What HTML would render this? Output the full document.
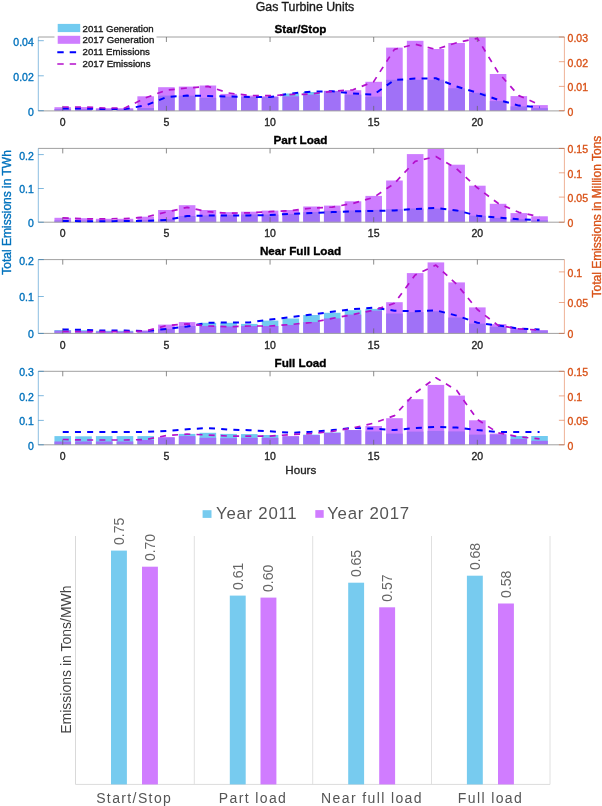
<!DOCTYPE html>
<html><head><meta charset="utf-8"><style>
html,body{margin:0;padding:0;background:#fff;}
body{width:602px;height:806px;overflow:hidden;}
svg{display:block;font-family:"Liberation Sans", sans-serif;will-change:transform;}
text{stroke-width:0.35px;}
</style></head><body>
<svg width="602" height="806" viewBox="0 0 602 806">
<text x="305" y="10.7" font-size="12.3" text-anchor="middle" fill="#1a1a1a" stroke="#1a1a1a">Gas Turbine Units</text>
<rect x="54.45" y="107.20" width="16.60" height="3.70" fill="#ce7dff"/>
<rect x="54.45" y="109.00" width="16.60" height="1.90" fill="#a071f7"/>
<rect x="75.18" y="107.10" width="16.60" height="3.80" fill="#ce7dff"/>
<rect x="75.18" y="109.00" width="16.60" height="1.90" fill="#a071f7"/>
<rect x="95.91" y="108.20" width="16.60" height="2.70" fill="#ce7dff"/>
<rect x="95.91" y="109.30" width="16.60" height="1.60" fill="#a071f7"/>
<rect x="116.64" y="108.20" width="16.60" height="2.70" fill="#ce7dff"/>
<rect x="116.64" y="109.30" width="16.60" height="1.60" fill="#a071f7"/>
<rect x="137.37" y="96.30" width="16.60" height="14.60" fill="#ce7dff"/>
<rect x="137.37" y="108.00" width="16.60" height="2.90" fill="#a071f7"/>
<rect x="158.10" y="87.20" width="16.60" height="23.70" fill="#ce7dff"/>
<rect x="158.10" y="95.60" width="16.60" height="15.30" fill="#a071f7"/>
<rect x="178.83" y="86.60" width="16.60" height="24.30" fill="#ce7dff"/>
<rect x="178.83" y="95.60" width="16.60" height="15.30" fill="#a071f7"/>
<rect x="199.56" y="85.50" width="16.60" height="25.40" fill="#ce7dff"/>
<rect x="199.56" y="97.80" width="16.60" height="13.10" fill="#a071f7"/>
<rect x="220.29" y="93.90" width="16.60" height="17.00" fill="#ce7dff"/>
<rect x="220.29" y="96.70" width="16.60" height="14.20" fill="#a071f7"/>
<rect x="241.02" y="95.60" width="16.60" height="15.30" fill="#ce7dff"/>
<rect x="241.02" y="97.00" width="16.60" height="13.90" fill="#a071f7"/>
<rect x="261.75" y="96.30" width="16.60" height="14.60" fill="#ce7dff"/>
<rect x="261.75" y="97.10" width="16.60" height="13.80" fill="#a071f7"/>
<rect x="282.48" y="93.50" width="16.60" height="17.40" fill="#72cbf0"/>
<rect x="282.48" y="96.30" width="16.60" height="14.60" fill="#a071f7"/>
<rect x="303.21" y="92.00" width="16.60" height="18.90" fill="#72cbf0"/>
<rect x="303.21" y="94.60" width="16.60" height="16.30" fill="#a071f7"/>
<rect x="323.94" y="90.90" width="16.60" height="20.00" fill="#ce7dff"/>
<rect x="323.94" y="90.90" width="16.60" height="20.00" fill="#a071f7"/>
<rect x="344.67" y="90.20" width="16.60" height="20.70" fill="#ce7dff"/>
<rect x="344.67" y="94.60" width="16.60" height="16.30" fill="#a071f7"/>
<rect x="365.40" y="81.80" width="16.60" height="29.10" fill="#ce7dff"/>
<rect x="365.40" y="96.60" width="16.60" height="14.30" fill="#a071f7"/>
<rect x="386.13" y="47.60" width="16.60" height="63.30" fill="#ce7dff"/>
<rect x="386.13" y="79.80" width="16.60" height="31.10" fill="#a071f7"/>
<rect x="406.86" y="40.80" width="16.60" height="70.10" fill="#ce7dff"/>
<rect x="406.86" y="79.80" width="16.60" height="31.10" fill="#a071f7"/>
<rect x="427.59" y="49.00" width="16.60" height="61.90" fill="#ce7dff"/>
<rect x="427.59" y="79.80" width="16.60" height="31.10" fill="#a071f7"/>
<rect x="448.32" y="43.00" width="16.60" height="67.90" fill="#ce7dff"/>
<rect x="448.32" y="88.30" width="16.60" height="22.60" fill="#a071f7"/>
<rect x="469.05" y="37.00" width="16.60" height="73.90" fill="#ce7dff"/>
<rect x="469.05" y="92.80" width="16.60" height="18.10" fill="#a071f7"/>
<rect x="489.78" y="74.00" width="16.60" height="36.90" fill="#ce7dff"/>
<rect x="489.78" y="101.10" width="16.60" height="9.80" fill="#a071f7"/>
<rect x="510.51" y="96.10" width="16.60" height="14.80" fill="#ce7dff"/>
<rect x="510.51" y="106.40" width="16.60" height="4.50" fill="#a071f7"/>
<rect x="531.24" y="105.10" width="16.60" height="5.80" fill="#ce7dff"/>
<rect x="531.24" y="108.10" width="16.60" height="2.80" fill="#a071f7"/>
<line x1="38.3" y1="37.00" x2="564.4" y2="37.00" stroke="#a0a0a0" stroke-width="1"/>
<line x1="38.3" y1="110.90" x2="564.4" y2="110.90" stroke="#a0a0a0" stroke-width="1"/>
<line x1="62.75" y1="37.00" x2="62.75" y2="42.00" stroke="#666" stroke-width="0.75"/>
<line x1="62.75" y1="110.90" x2="62.75" y2="105.90" stroke="#666" stroke-width="0.75"/>
<text x="62.75" y="126.10" font-size="10.5" text-anchor="middle" fill="#262626" stroke="#262626">0</text>
<line x1="166.40" y1="37.00" x2="166.40" y2="42.00" stroke="#666" stroke-width="0.75"/>
<line x1="166.40" y1="110.90" x2="166.40" y2="105.90" stroke="#666" stroke-width="0.75"/>
<text x="166.40" y="126.10" font-size="10.5" text-anchor="middle" fill="#262626" stroke="#262626">5</text>
<line x1="270.05" y1="37.00" x2="270.05" y2="42.00" stroke="#666" stroke-width="0.75"/>
<line x1="270.05" y1="110.90" x2="270.05" y2="105.90" stroke="#666" stroke-width="0.75"/>
<text x="270.05" y="126.10" font-size="10.5" text-anchor="middle" fill="#262626" stroke="#262626">10</text>
<line x1="373.70" y1="37.00" x2="373.70" y2="42.00" stroke="#666" stroke-width="0.75"/>
<line x1="373.70" y1="110.90" x2="373.70" y2="105.90" stroke="#666" stroke-width="0.75"/>
<text x="373.70" y="126.10" font-size="10.5" text-anchor="middle" fill="#262626" stroke="#262626">15</text>
<line x1="477.35" y1="37.00" x2="477.35" y2="42.00" stroke="#666" stroke-width="0.75"/>
<line x1="477.35" y1="110.90" x2="477.35" y2="105.90" stroke="#666" stroke-width="0.75"/>
<text x="477.35" y="126.10" font-size="10.5" text-anchor="middle" fill="#262626" stroke="#262626">20</text>
<line x1="38.3" y1="37.00" x2="38.3" y2="110.90" stroke="#0072bd" stroke-width="1" stroke-opacity="0.45"/>
<line x1="38.3" y1="110.70" x2="43.8" y2="110.70" stroke="#0072bd" stroke-width="1" stroke-opacity="0.5"/>
<text x="33.8" y="115.60" font-size="10.5" text-anchor="end" fill="#0072bd" stroke="#0072bd">0</text>
<line x1="38.3" y1="75.80" x2="43.8" y2="75.80" stroke="#0072bd" stroke-width="1" stroke-opacity="0.5"/>
<text x="33.8" y="80.70" font-size="10.5" text-anchor="end" fill="#0072bd" stroke="#0072bd">0.02</text>
<line x1="38.3" y1="40.70" x2="43.8" y2="40.70" stroke="#0072bd" stroke-width="1" stroke-opacity="0.5"/>
<text x="33.8" y="45.60" font-size="10.5" text-anchor="end" fill="#0072bd" stroke="#0072bd">0.04</text>
<line x1="564.4" y1="37.00" x2="564.4" y2="110.90" stroke="#d95319" stroke-width="1" stroke-opacity="0.45"/>
<line x1="558.9" y1="110.70" x2="564.4" y2="110.70" stroke="#d95319" stroke-width="1" stroke-opacity="0.5"/>
<text x="567.6" y="115.60" font-size="10.5" fill="#d95319" stroke="#d95319">0</text>
<line x1="558.9" y1="86.40" x2="564.4" y2="86.40" stroke="#d95319" stroke-width="1" stroke-opacity="0.5"/>
<text x="567.6" y="91.30" font-size="10.5" fill="#d95319" stroke="#d95319">0.01</text>
<line x1="558.9" y1="61.70" x2="564.4" y2="61.70" stroke="#d95319" stroke-width="1" stroke-opacity="0.5"/>
<text x="567.6" y="66.60" font-size="10.5" fill="#d95319" stroke="#d95319">0.02</text>
<line x1="558.9" y1="37.00" x2="564.4" y2="37.00" stroke="#d95319" stroke-width="1" stroke-opacity="0.5"/>
<text x="567.6" y="41.90" font-size="10.5" fill="#d95319" stroke="#d95319">0.03</text>
<path d="M62.75,108.60 L83.48,108.60 L104.21,109.00 L124.94,109.00 L145.67,105.40 L166.40,97.10 L187.13,95.60 L207.86,96.00 L228.59,96.50 L249.32,97.00 L270.05,97.10 L290.78,93.50 L311.51,91.70 L332.24,91.30 L352.97,93.50 L373.70,94.60 L394.43,80.00 L415.16,78.60 L435.89,78.30 L456.62,86.50 L477.35,92.80 L498.08,99.80 L518.81,105.60 L539.54,107.20" fill="none" stroke="#0000ff" stroke-width="2" stroke-dasharray="6 6.2" stroke-linejoin="round"/>
<path d="M62.75,107.00 L83.48,107.00 L104.21,108.00 L124.94,108.00 L145.67,97.80 L166.40,90.20 L187.13,88.00 L207.86,86.40 L228.59,93.00 L249.32,95.50 L270.05,95.60 L290.78,94.60 L311.51,94.00 L332.24,91.30 L352.97,89.80 L373.70,81.60 L394.43,49.40 L415.16,44.20 L435.89,49.40 L456.62,42.70 L477.35,38.30 L498.08,72.40 L518.81,95.60 L539.54,104.80" fill="none" stroke="#b40fcc" stroke-width="1.7" stroke-dasharray="6 6.2" stroke-linejoin="round"/>
<text x="300.5" y="33.20" font-size="11.7" font-weight="bold" text-anchor="middle" fill="#000" stroke="#000">Star/Stop</text>
<rect x="54.45" y="217.80" width="16.60" height="4.40" fill="#ce7dff"/>
<rect x="54.45" y="220.40" width="16.60" height="1.80" fill="#a071f7"/>
<rect x="75.18" y="218.20" width="16.60" height="4.00" fill="#ce7dff"/>
<rect x="75.18" y="220.60" width="16.60" height="1.60" fill="#a071f7"/>
<rect x="95.91" y="218.80" width="16.60" height="3.40" fill="#ce7dff"/>
<rect x="95.91" y="220.60" width="16.60" height="1.60" fill="#a071f7"/>
<rect x="116.64" y="218.80" width="16.60" height="3.40" fill="#ce7dff"/>
<rect x="116.64" y="220.60" width="16.60" height="1.60" fill="#a071f7"/>
<rect x="137.37" y="216.70" width="16.60" height="5.50" fill="#ce7dff"/>
<rect x="137.37" y="220.30" width="16.60" height="1.90" fill="#a071f7"/>
<rect x="158.10" y="210.00" width="16.60" height="12.20" fill="#ce7dff"/>
<rect x="158.10" y="219.30" width="16.60" height="2.90" fill="#a071f7"/>
<rect x="178.83" y="205.20" width="16.60" height="17.00" fill="#ce7dff"/>
<rect x="178.83" y="216.00" width="16.60" height="6.20" fill="#a071f7"/>
<rect x="199.56" y="210.00" width="16.60" height="12.20" fill="#ce7dff"/>
<rect x="199.56" y="215.40" width="16.60" height="6.80" fill="#a071f7"/>
<rect x="220.29" y="212.10" width="16.60" height="10.10" fill="#ce7dff"/>
<rect x="220.29" y="215.00" width="16.60" height="7.20" fill="#a071f7"/>
<rect x="241.02" y="211.70" width="16.60" height="10.50" fill="#ce7dff"/>
<rect x="241.02" y="214.50" width="16.60" height="7.70" fill="#a071f7"/>
<rect x="261.75" y="210.60" width="16.60" height="11.60" fill="#ce7dff"/>
<rect x="261.75" y="214.50" width="16.60" height="7.70" fill="#a071f7"/>
<rect x="282.48" y="210.00" width="16.60" height="12.20" fill="#ce7dff"/>
<rect x="282.48" y="213.90" width="16.60" height="8.30" fill="#a071f7"/>
<rect x="303.21" y="206.50" width="16.60" height="15.70" fill="#ce7dff"/>
<rect x="303.21" y="212.10" width="16.60" height="10.10" fill="#a071f7"/>
<rect x="323.94" y="205.60" width="16.60" height="16.60" fill="#ce7dff"/>
<rect x="323.94" y="210.80" width="16.60" height="11.40" fill="#a071f7"/>
<rect x="344.67" y="201.30" width="16.60" height="20.90" fill="#ce7dff"/>
<rect x="344.67" y="210.40" width="16.60" height="11.80" fill="#a071f7"/>
<rect x="365.40" y="195.90" width="16.60" height="26.30" fill="#ce7dff"/>
<rect x="365.40" y="209.90" width="16.60" height="12.30" fill="#a071f7"/>
<rect x="386.13" y="180.50" width="16.60" height="41.70" fill="#ce7dff"/>
<rect x="386.13" y="209.30" width="16.60" height="12.90" fill="#a071f7"/>
<rect x="406.86" y="154.10" width="16.60" height="68.10" fill="#ce7dff"/>
<rect x="406.86" y="208.50" width="16.60" height="13.70" fill="#a071f7"/>
<rect x="427.59" y="148.40" width="16.60" height="73.80" fill="#ce7dff"/>
<rect x="427.59" y="208.60" width="16.60" height="13.60" fill="#a071f7"/>
<rect x="448.32" y="164.70" width="16.60" height="57.50" fill="#ce7dff"/>
<rect x="448.32" y="210.40" width="16.60" height="11.80" fill="#a071f7"/>
<rect x="469.05" y="185.70" width="16.60" height="36.50" fill="#ce7dff"/>
<rect x="469.05" y="215.70" width="16.60" height="6.50" fill="#a071f7"/>
<rect x="489.78" y="203.80" width="16.60" height="18.40" fill="#ce7dff"/>
<rect x="489.78" y="217.90" width="16.60" height="4.30" fill="#a071f7"/>
<rect x="510.51" y="213.10" width="16.60" height="9.10" fill="#ce7dff"/>
<rect x="510.51" y="219.20" width="16.60" height="3.00" fill="#a071f7"/>
<rect x="531.24" y="216.30" width="16.60" height="5.90" fill="#ce7dff"/>
<rect x="531.24" y="220.30" width="16.60" height="1.90" fill="#a071f7"/>
<line x1="38.3" y1="148.40" x2="564.4" y2="148.40" stroke="#a0a0a0" stroke-width="1"/>
<line x1="38.3" y1="222.20" x2="564.4" y2="222.20" stroke="#a0a0a0" stroke-width="1"/>
<line x1="62.75" y1="148.40" x2="62.75" y2="153.40" stroke="#666" stroke-width="0.75"/>
<line x1="62.75" y1="222.20" x2="62.75" y2="217.20" stroke="#666" stroke-width="0.75"/>
<text x="62.75" y="237.40" font-size="10.5" text-anchor="middle" fill="#262626" stroke="#262626">0</text>
<line x1="166.40" y1="148.40" x2="166.40" y2="153.40" stroke="#666" stroke-width="0.75"/>
<line x1="166.40" y1="222.20" x2="166.40" y2="217.20" stroke="#666" stroke-width="0.75"/>
<text x="166.40" y="237.40" font-size="10.5" text-anchor="middle" fill="#262626" stroke="#262626">5</text>
<line x1="270.05" y1="148.40" x2="270.05" y2="153.40" stroke="#666" stroke-width="0.75"/>
<line x1="270.05" y1="222.20" x2="270.05" y2="217.20" stroke="#666" stroke-width="0.75"/>
<text x="270.05" y="237.40" font-size="10.5" text-anchor="middle" fill="#262626" stroke="#262626">10</text>
<line x1="373.70" y1="148.40" x2="373.70" y2="153.40" stroke="#666" stroke-width="0.75"/>
<line x1="373.70" y1="222.20" x2="373.70" y2="217.20" stroke="#666" stroke-width="0.75"/>
<text x="373.70" y="237.40" font-size="10.5" text-anchor="middle" fill="#262626" stroke="#262626">15</text>
<line x1="477.35" y1="148.40" x2="477.35" y2="153.40" stroke="#666" stroke-width="0.75"/>
<line x1="477.35" y1="222.20" x2="477.35" y2="217.20" stroke="#666" stroke-width="0.75"/>
<text x="477.35" y="237.40" font-size="10.5" text-anchor="middle" fill="#262626" stroke="#262626">20</text>
<line x1="38.3" y1="148.40" x2="38.3" y2="222.20" stroke="#0072bd" stroke-width="1" stroke-opacity="0.45"/>
<line x1="38.3" y1="222.20" x2="43.8" y2="222.20" stroke="#0072bd" stroke-width="1" stroke-opacity="0.5"/>
<text x="33.8" y="227.10" font-size="10.5" text-anchor="end" fill="#0072bd" stroke="#0072bd">0</text>
<line x1="38.3" y1="188.50" x2="43.8" y2="188.50" stroke="#0072bd" stroke-width="1" stroke-opacity="0.5"/>
<text x="33.8" y="193.40" font-size="10.5" text-anchor="end" fill="#0072bd" stroke="#0072bd">0.1</text>
<line x1="38.3" y1="154.60" x2="43.8" y2="154.60" stroke="#0072bd" stroke-width="1" stroke-opacity="0.5"/>
<text x="33.8" y="159.50" font-size="10.5" text-anchor="end" fill="#0072bd" stroke="#0072bd">0.2</text>
<line x1="564.4" y1="148.40" x2="564.4" y2="222.20" stroke="#d95319" stroke-width="1" stroke-opacity="0.45"/>
<line x1="558.9" y1="222.20" x2="564.4" y2="222.20" stroke="#d95319" stroke-width="1" stroke-opacity="0.5"/>
<text x="567.6" y="227.10" font-size="10.5" fill="#d95319" stroke="#d95319">0</text>
<line x1="558.9" y1="197.10" x2="564.4" y2="197.10" stroke="#d95319" stroke-width="1" stroke-opacity="0.5"/>
<text x="567.6" y="202.00" font-size="10.5" fill="#d95319" stroke="#d95319">0.05</text>
<line x1="558.9" y1="172.80" x2="564.4" y2="172.80" stroke="#d95319" stroke-width="1" stroke-opacity="0.5"/>
<text x="567.6" y="177.70" font-size="10.5" fill="#d95319" stroke="#d95319">0.1</text>
<line x1="558.9" y1="148.40" x2="564.4" y2="148.40" stroke="#d95319" stroke-width="1" stroke-opacity="0.5"/>
<text x="567.6" y="153.30" font-size="10.5" fill="#d95319" stroke="#d95319">0.15</text>
<path d="M62.75,221.00 L83.48,221.20 L104.21,221.20 L124.94,221.00 L145.67,220.80 L166.40,219.90 L187.13,216.00 L207.86,215.60 L228.59,215.40 L249.32,215.40 L270.05,215.00 L290.78,213.90 L311.51,213.00 L332.24,212.10 L352.97,211.40 L373.70,211.00 L394.43,210.40 L415.16,209.00 L435.89,208.00 L456.62,210.40 L477.35,215.70 L498.08,217.60 L518.81,219.20 L539.54,220.30" fill="none" stroke="#0000ff" stroke-width="2" stroke-dasharray="6 6.2" stroke-linejoin="round"/>
<path d="M62.75,217.80 L83.48,218.80 L104.21,218.80 L124.94,218.60 L145.67,217.10 L166.40,212.10 L187.13,207.40 L207.86,211.70 L228.59,213.20 L249.32,212.80 L270.05,211.70 L290.78,210.60 L311.51,208.20 L332.24,207.10 L352.97,203.40 L373.70,197.40 L394.43,183.40 L415.16,161.30 L435.89,156.50 L456.62,168.70 L477.35,187.80 L498.08,203.30 L518.81,212.30 L539.54,216.60" fill="none" stroke="#b40fcc" stroke-width="1.7" stroke-dasharray="6 6.2" stroke-linejoin="round"/>
<text x="300.5" y="144.10" font-size="11.7" font-weight="bold" text-anchor="middle" fill="#000" stroke="#000">Part Load</text>
<rect x="54.45" y="330.00" width="16.60" height="3.40" fill="#72cbf0"/>
<rect x="54.45" y="330.60" width="16.60" height="2.80" fill="#a071f7"/>
<rect x="75.18" y="330.20" width="16.60" height="3.20" fill="#72cbf0"/>
<rect x="75.18" y="331.00" width="16.60" height="2.40" fill="#a071f7"/>
<rect x="95.91" y="330.80" width="16.60" height="2.60" fill="#72cbf0"/>
<rect x="95.91" y="331.50" width="16.60" height="1.90" fill="#a071f7"/>
<rect x="116.64" y="330.80" width="16.60" height="2.60" fill="#72cbf0"/>
<rect x="116.64" y="331.50" width="16.60" height="1.90" fill="#a071f7"/>
<rect x="137.37" y="330.60" width="16.60" height="2.80" fill="#ce7dff"/>
<rect x="137.37" y="330.80" width="16.60" height="2.60" fill="#a071f7"/>
<rect x="158.10" y="324.60" width="16.60" height="8.80" fill="#ce7dff"/>
<rect x="158.10" y="328.90" width="16.60" height="4.50" fill="#a071f7"/>
<rect x="178.83" y="322.10" width="16.60" height="11.30" fill="#ce7dff"/>
<rect x="178.83" y="326.00" width="16.60" height="7.40" fill="#a071f7"/>
<rect x="199.56" y="322.80" width="16.60" height="10.60" fill="#72cbf0"/>
<rect x="199.56" y="326.00" width="16.60" height="7.40" fill="#a071f7"/>
<rect x="220.29" y="322.80" width="16.60" height="10.60" fill="#72cbf0"/>
<rect x="220.29" y="326.50" width="16.60" height="6.90" fill="#a071f7"/>
<rect x="241.02" y="323.90" width="16.60" height="9.50" fill="#72cbf0"/>
<rect x="241.02" y="326.00" width="16.60" height="7.40" fill="#a071f7"/>
<rect x="261.75" y="320.60" width="16.60" height="12.80" fill="#72cbf0"/>
<rect x="261.75" y="326.00" width="16.60" height="7.40" fill="#a071f7"/>
<rect x="282.48" y="318.50" width="16.60" height="14.90" fill="#72cbf0"/>
<rect x="282.48" y="325.00" width="16.60" height="8.40" fill="#a071f7"/>
<rect x="303.21" y="315.00" width="16.60" height="18.40" fill="#72cbf0"/>
<rect x="303.21" y="322.10" width="16.60" height="11.30" fill="#a071f7"/>
<rect x="323.94" y="312.80" width="16.60" height="20.60" fill="#72cbf0"/>
<rect x="323.94" y="318.40" width="16.60" height="15.00" fill="#a071f7"/>
<rect x="344.67" y="310.20" width="16.60" height="23.20" fill="#72cbf0"/>
<rect x="344.67" y="314.60" width="16.60" height="18.80" fill="#a071f7"/>
<rect x="365.40" y="308.90" width="16.60" height="24.50" fill="#72cbf0"/>
<rect x="365.40" y="310.60" width="16.60" height="22.80" fill="#a071f7"/>
<rect x="386.13" y="302.20" width="16.60" height="31.20" fill="#ce7dff"/>
<rect x="386.13" y="313.50" width="16.60" height="19.90" fill="#a071f7"/>
<rect x="406.86" y="273.10" width="16.60" height="60.30" fill="#ce7dff"/>
<rect x="406.86" y="312.10" width="16.60" height="21.30" fill="#a071f7"/>
<rect x="427.59" y="262.40" width="16.60" height="71.00" fill="#ce7dff"/>
<rect x="427.59" y="311.30" width="16.60" height="22.10" fill="#a071f7"/>
<rect x="448.32" y="282.40" width="16.60" height="51.00" fill="#ce7dff"/>
<rect x="448.32" y="317.50" width="16.60" height="15.90" fill="#a071f7"/>
<rect x="469.05" y="307.40" width="16.60" height="26.00" fill="#ce7dff"/>
<rect x="469.05" y="323.60" width="16.60" height="9.80" fill="#a071f7"/>
<rect x="489.78" y="324.10" width="16.60" height="9.30" fill="#ce7dff"/>
<rect x="489.78" y="326.80" width="16.60" height="6.60" fill="#a071f7"/>
<rect x="510.51" y="328.10" width="16.60" height="5.30" fill="#ce7dff"/>
<rect x="510.51" y="329.40" width="16.60" height="4.00" fill="#a071f7"/>
<rect x="531.24" y="330.20" width="16.60" height="3.20" fill="#ce7dff"/>
<rect x="531.24" y="330.50" width="16.60" height="2.90" fill="#a071f7"/>
<line x1="38.3" y1="259.60" x2="564.4" y2="259.60" stroke="#a0a0a0" stroke-width="1"/>
<line x1="38.3" y1="333.40" x2="564.4" y2="333.40" stroke="#a0a0a0" stroke-width="1"/>
<line x1="62.75" y1="259.60" x2="62.75" y2="264.60" stroke="#666" stroke-width="0.75"/>
<line x1="62.75" y1="333.40" x2="62.75" y2="328.40" stroke="#666" stroke-width="0.75"/>
<text x="62.75" y="348.60" font-size="10.5" text-anchor="middle" fill="#262626" stroke="#262626">0</text>
<line x1="166.40" y1="259.60" x2="166.40" y2="264.60" stroke="#666" stroke-width="0.75"/>
<line x1="166.40" y1="333.40" x2="166.40" y2="328.40" stroke="#666" stroke-width="0.75"/>
<text x="166.40" y="348.60" font-size="10.5" text-anchor="middle" fill="#262626" stroke="#262626">5</text>
<line x1="270.05" y1="259.60" x2="270.05" y2="264.60" stroke="#666" stroke-width="0.75"/>
<line x1="270.05" y1="333.40" x2="270.05" y2="328.40" stroke="#666" stroke-width="0.75"/>
<text x="270.05" y="348.60" font-size="10.5" text-anchor="middle" fill="#262626" stroke="#262626">10</text>
<line x1="373.70" y1="259.60" x2="373.70" y2="264.60" stroke="#666" stroke-width="0.75"/>
<line x1="373.70" y1="333.40" x2="373.70" y2="328.40" stroke="#666" stroke-width="0.75"/>
<text x="373.70" y="348.60" font-size="10.5" text-anchor="middle" fill="#262626" stroke="#262626">15</text>
<line x1="477.35" y1="259.60" x2="477.35" y2="264.60" stroke="#666" stroke-width="0.75"/>
<line x1="477.35" y1="333.40" x2="477.35" y2="328.40" stroke="#666" stroke-width="0.75"/>
<text x="477.35" y="348.60" font-size="10.5" text-anchor="middle" fill="#262626" stroke="#262626">20</text>
<line x1="38.3" y1="259.60" x2="38.3" y2="333.40" stroke="#0072bd" stroke-width="1" stroke-opacity="0.45"/>
<line x1="38.3" y1="333.40" x2="43.8" y2="333.40" stroke="#0072bd" stroke-width="1" stroke-opacity="0.5"/>
<text x="33.8" y="338.30" font-size="10.5" text-anchor="end" fill="#0072bd" stroke="#0072bd">0</text>
<line x1="38.3" y1="296.50" x2="43.8" y2="296.50" stroke="#0072bd" stroke-width="1" stroke-opacity="0.5"/>
<text x="33.8" y="301.40" font-size="10.5" text-anchor="end" fill="#0072bd" stroke="#0072bd">0.1</text>
<line x1="38.3" y1="259.60" x2="43.8" y2="259.60" stroke="#0072bd" stroke-width="1" stroke-opacity="0.5"/>
<text x="33.8" y="264.50" font-size="10.5" text-anchor="end" fill="#0072bd" stroke="#0072bd">0.2</text>
<line x1="564.4" y1="259.60" x2="564.4" y2="333.40" stroke="#d95319" stroke-width="1" stroke-opacity="0.45"/>
<line x1="558.9" y1="333.40" x2="564.4" y2="333.40" stroke="#d95319" stroke-width="1" stroke-opacity="0.5"/>
<text x="567.6" y="338.30" font-size="10.5" fill="#d95319" stroke="#d95319">0</text>
<line x1="558.9" y1="302.50" x2="564.4" y2="302.50" stroke="#d95319" stroke-width="1" stroke-opacity="0.5"/>
<text x="567.6" y="307.40" font-size="10.5" fill="#d95319" stroke="#d95319">0.05</text>
<line x1="558.9" y1="271.90" x2="564.4" y2="271.90" stroke="#d95319" stroke-width="1" stroke-opacity="0.5"/>
<text x="567.6" y="276.80" font-size="10.5" fill="#d95319" stroke="#d95319">0.1</text>
<path d="M62.75,329.50 L83.48,329.90 L104.21,330.60 L124.94,330.60 L145.67,331.00 L166.40,328.90 L187.13,326.50 L207.86,322.80 L228.59,322.40 L249.32,322.40 L270.05,319.60 L290.78,317.00 L311.51,314.60 L332.24,311.70 L352.97,309.20 L373.70,307.60 L394.43,310.70 L415.16,311.30 L435.89,310.30 L456.62,315.60 L477.35,322.80 L498.08,325.40 L518.81,328.60 L539.54,329.40" fill="none" stroke="#0000ff" stroke-width="2" stroke-dasharray="6 6.2" stroke-linejoin="round"/>
<path d="M62.75,331.50 L83.48,331.50 L104.21,331.70 L124.94,331.70 L145.67,331.00 L166.40,325.60 L187.13,323.90 L207.86,326.00 L228.59,326.70 L249.32,326.00 L270.05,326.00 L290.78,324.50 L311.51,322.50 L332.24,318.40 L352.97,314.60 L373.70,310.20 L394.43,303.30 L415.16,275.00 L435.89,265.10 L456.62,284.20 L477.35,309.50 L498.08,325.40 L518.81,328.90 L539.54,330.00" fill="none" stroke="#b40fcc" stroke-width="1.7" stroke-dasharray="6 6.2" stroke-linejoin="round"/>
<text x="300.5" y="255.40" font-size="11.7" font-weight="bold" text-anchor="middle" fill="#000" stroke="#000">Near Full Load</text>
<rect x="54.45" y="436.10" width="16.60" height="8.70" fill="#72cbf0"/>
<rect x="54.45" y="441.50" width="16.60" height="3.30" fill="#a071f7"/>
<rect x="75.18" y="436.30" width="16.60" height="8.50" fill="#72cbf0"/>
<rect x="75.18" y="441.50" width="16.60" height="3.30" fill="#a071f7"/>
<rect x="95.91" y="436.10" width="16.60" height="8.70" fill="#72cbf0"/>
<rect x="95.91" y="441.50" width="16.60" height="3.30" fill="#a071f7"/>
<rect x="116.64" y="436.10" width="16.60" height="8.70" fill="#72cbf0"/>
<rect x="116.64" y="441.50" width="16.60" height="3.30" fill="#a071f7"/>
<rect x="137.37" y="436.10" width="16.60" height="8.70" fill="#72cbf0"/>
<rect x="137.37" y="440.00" width="16.60" height="4.80" fill="#a071f7"/>
<rect x="158.10" y="437.10" width="16.60" height="7.70" fill="#ce7dff"/>
<rect x="158.10" y="437.60" width="16.60" height="7.20" fill="#a071f7"/>
<rect x="178.83" y="433.90" width="16.60" height="10.90" fill="#72cbf0"/>
<rect x="178.83" y="436.10" width="16.60" height="8.70" fill="#a071f7"/>
<rect x="199.56" y="432.80" width="16.60" height="12.00" fill="#72cbf0"/>
<rect x="199.56" y="437.80" width="16.60" height="7.00" fill="#a071f7"/>
<rect x="220.29" y="433.90" width="16.60" height="10.90" fill="#72cbf0"/>
<rect x="220.29" y="438.20" width="16.60" height="6.60" fill="#a071f7"/>
<rect x="241.02" y="434.10" width="16.60" height="10.70" fill="#72cbf0"/>
<rect x="241.02" y="437.80" width="16.60" height="7.00" fill="#a071f7"/>
<rect x="261.75" y="435.00" width="16.60" height="9.80" fill="#72cbf0"/>
<rect x="261.75" y="437.80" width="16.60" height="7.00" fill="#a071f7"/>
<rect x="282.48" y="436.10" width="16.60" height="8.70" fill="#ce7dff"/>
<rect x="282.48" y="436.40" width="16.60" height="8.40" fill="#a071f7"/>
<rect x="303.21" y="434.60" width="16.60" height="10.20" fill="#72cbf0"/>
<rect x="303.21" y="435.10" width="16.60" height="9.70" fill="#a071f7"/>
<rect x="323.94" y="432.50" width="16.60" height="12.30" fill="#72cbf0"/>
<rect x="323.94" y="432.90" width="16.60" height="11.90" fill="#a071f7"/>
<rect x="344.67" y="430.10" width="16.60" height="14.70" fill="#ce7dff"/>
<rect x="344.67" y="430.10" width="16.60" height="14.70" fill="#a071f7"/>
<rect x="365.40" y="426.00" width="16.60" height="18.80" fill="#ce7dff"/>
<rect x="365.40" y="431.40" width="16.60" height="13.40" fill="#a071f7"/>
<rect x="386.13" y="418.20" width="16.60" height="26.60" fill="#ce7dff"/>
<rect x="386.13" y="433.60" width="16.60" height="11.20" fill="#a071f7"/>
<rect x="406.86" y="399.20" width="16.60" height="45.60" fill="#ce7dff"/>
<rect x="406.86" y="431.60" width="16.60" height="13.20" fill="#a071f7"/>
<rect x="427.59" y="384.90" width="16.60" height="59.90" fill="#ce7dff"/>
<rect x="427.59" y="430.90" width="16.60" height="13.90" fill="#a071f7"/>
<rect x="448.32" y="395.60" width="16.60" height="49.20" fill="#ce7dff"/>
<rect x="448.32" y="431.40" width="16.60" height="13.40" fill="#a071f7"/>
<rect x="469.05" y="420.30" width="16.60" height="24.50" fill="#ce7dff"/>
<rect x="469.05" y="434.60" width="16.60" height="10.20" fill="#a071f7"/>
<rect x="489.78" y="433.60" width="16.60" height="11.20" fill="#ce7dff"/>
<rect x="489.78" y="434.60" width="16.60" height="10.20" fill="#a071f7"/>
<rect x="510.51" y="436.00" width="16.60" height="8.80" fill="#72cbf0"/>
<rect x="510.51" y="438.90" width="16.60" height="5.90" fill="#a071f7"/>
<rect x="531.24" y="436.00" width="16.60" height="8.80" fill="#72cbf0"/>
<rect x="531.24" y="440.80" width="16.60" height="4.00" fill="#a071f7"/>
<line x1="38.3" y1="371.30" x2="564.4" y2="371.30" stroke="#a0a0a0" stroke-width="1"/>
<line x1="38.3" y1="444.80" x2="564.4" y2="444.80" stroke="#a0a0a0" stroke-width="1"/>
<line x1="62.75" y1="371.30" x2="62.75" y2="376.30" stroke="#666" stroke-width="0.75"/>
<line x1="62.75" y1="444.80" x2="62.75" y2="439.80" stroke="#666" stroke-width="0.75"/>
<text x="62.75" y="460.00" font-size="10.5" text-anchor="middle" fill="#262626" stroke="#262626">0</text>
<line x1="166.40" y1="371.30" x2="166.40" y2="376.30" stroke="#666" stroke-width="0.75"/>
<line x1="166.40" y1="444.80" x2="166.40" y2="439.80" stroke="#666" stroke-width="0.75"/>
<text x="166.40" y="460.00" font-size="10.5" text-anchor="middle" fill="#262626" stroke="#262626">5</text>
<line x1="270.05" y1="371.30" x2="270.05" y2="376.30" stroke="#666" stroke-width="0.75"/>
<line x1="270.05" y1="444.80" x2="270.05" y2="439.80" stroke="#666" stroke-width="0.75"/>
<text x="270.05" y="460.00" font-size="10.5" text-anchor="middle" fill="#262626" stroke="#262626">10</text>
<line x1="373.70" y1="371.30" x2="373.70" y2="376.30" stroke="#666" stroke-width="0.75"/>
<line x1="373.70" y1="444.80" x2="373.70" y2="439.80" stroke="#666" stroke-width="0.75"/>
<text x="373.70" y="460.00" font-size="10.5" text-anchor="middle" fill="#262626" stroke="#262626">15</text>
<line x1="477.35" y1="371.30" x2="477.35" y2="376.30" stroke="#666" stroke-width="0.75"/>
<line x1="477.35" y1="444.80" x2="477.35" y2="439.80" stroke="#666" stroke-width="0.75"/>
<text x="477.35" y="460.00" font-size="10.5" text-anchor="middle" fill="#262626" stroke="#262626">20</text>
<line x1="38.3" y1="371.30" x2="38.3" y2="444.80" stroke="#0072bd" stroke-width="1" stroke-opacity="0.45"/>
<line x1="38.3" y1="444.80" x2="43.8" y2="444.80" stroke="#0072bd" stroke-width="1" stroke-opacity="0.5"/>
<text x="33.8" y="449.70" font-size="10.5" text-anchor="end" fill="#0072bd" stroke="#0072bd">0</text>
<line x1="38.3" y1="420.40" x2="43.8" y2="420.40" stroke="#0072bd" stroke-width="1" stroke-opacity="0.5"/>
<text x="33.8" y="425.30" font-size="10.5" text-anchor="end" fill="#0072bd" stroke="#0072bd">0.1</text>
<line x1="38.3" y1="395.70" x2="43.8" y2="395.70" stroke="#0072bd" stroke-width="1" stroke-opacity="0.5"/>
<text x="33.8" y="400.60" font-size="10.5" text-anchor="end" fill="#0072bd" stroke="#0072bd">0.2</text>
<line x1="38.3" y1="371.30" x2="43.8" y2="371.30" stroke="#0072bd" stroke-width="1" stroke-opacity="0.5"/>
<text x="33.8" y="376.20" font-size="10.5" text-anchor="end" fill="#0072bd" stroke="#0072bd">0.3</text>
<line x1="564.4" y1="371.30" x2="564.4" y2="444.80" stroke="#d95319" stroke-width="1" stroke-opacity="0.45"/>
<line x1="558.9" y1="444.80" x2="564.4" y2="444.80" stroke="#d95319" stroke-width="1" stroke-opacity="0.5"/>
<text x="567.6" y="449.70" font-size="10.5" fill="#d95319" stroke="#d95319">0</text>
<line x1="558.9" y1="420.30" x2="564.4" y2="420.30" stroke="#d95319" stroke-width="1" stroke-opacity="0.5"/>
<text x="567.6" y="425.20" font-size="10.5" fill="#d95319" stroke="#d95319">0.05</text>
<line x1="558.9" y1="395.90" x2="564.4" y2="395.90" stroke="#d95319" stroke-width="1" stroke-opacity="0.5"/>
<text x="567.6" y="400.80" font-size="10.5" fill="#d95319" stroke="#d95319">0.1</text>
<line x1="558.9" y1="371.30" x2="564.4" y2="371.30" stroke="#d95319" stroke-width="1" stroke-opacity="0.5"/>
<text x="567.6" y="376.20" font-size="10.5" fill="#d95319" stroke="#d95319">0.15</text>
<path d="M62.75,432.00 L83.48,432.00 L104.21,432.00 L124.94,432.00 L145.67,432.00 L166.40,430.90 L187.13,429.20 L207.86,428.10 L228.59,429.60 L249.32,430.20 L270.05,431.30 L290.78,432.80 L311.51,431.80 L332.24,430.10 L352.97,427.90 L373.70,428.60 L394.43,430.10 L415.16,428.00 L435.89,426.90 L456.62,427.50 L477.35,430.10 L498.08,432.00 L518.81,432.00 L539.54,432.00" fill="none" stroke="#0000ff" stroke-width="2" stroke-dasharray="6 6.2" stroke-linejoin="round"/>
<path d="M62.75,439.50 L83.48,440.00 L104.21,440.00 L124.94,440.00 L145.67,439.50 L166.40,435.60 L187.13,434.10 L207.86,435.00 L228.59,436.10 L249.32,436.10 L270.05,436.10 L290.78,434.60 L311.51,433.60 L332.24,431.40 L352.97,427.90 L373.70,423.20 L394.43,415.60 L415.16,393.00 L435.89,377.80 L456.62,390.30 L477.35,419.50 L498.08,432.80 L518.81,436.80 L539.54,438.90" fill="none" stroke="#b40fcc" stroke-width="1.7" stroke-dasharray="6 6.2" stroke-linejoin="round"/>
<text x="300.5" y="366.90" font-size="11.7" font-weight="bold" text-anchor="middle" fill="#000" stroke="#000">Full Load</text>
<rect x="54.5" y="20" width="102" height="50" fill="#fff"/>
<rect x="57.7" y="23.9" width="22.5" height="8.2" fill="#72cbf0"/>
<rect x="57.7" y="35.8" width="22.5" height="8.0" fill="#ce7dff"/>
<line x1="57.3" y1="52.3" x2="80.2" y2="52.3" stroke="#0000ff" stroke-width="2" stroke-dasharray="6.4 6"/>
<line x1="57.3" y1="64.0" x2="80.2" y2="64.0" stroke="#b40fcc" stroke-width="1.7" stroke-dasharray="6.4 6"/>
<text x="82.6" y="31.60" font-size="9.65" fill="#1a1a1a" stroke="#1a1a1a">2011 Generation</text>
<text x="82.6" y="43.40" font-size="9.65" fill="#1a1a1a" stroke="#1a1a1a">2017 Generation</text>
<text x="82.6" y="55.20" font-size="9.65" fill="#1a1a1a" stroke="#1a1a1a">2011 Emissions</text>
<text x="82.6" y="67.00" font-size="9.65" fill="#1a1a1a" stroke="#1a1a1a">2017 Emissions</text>
<text transform="translate(11.0,212.4) rotate(-90)" font-size="12" text-anchor="middle" fill="#0072bd" stroke="#0072bd">Total Emissions in TWh</text>
<text transform="translate(600.6,216.6) rotate(-90)" font-size="12" text-anchor="middle" fill="#d95319" stroke="#d95319">Total Emissions in Million Tons</text>
<text x="300.8" y="473.5" font-size="11.6" text-anchor="middle" fill="#262626" stroke="#262626">Hours</text>
<line x1="75.5" y1="536" x2="75.5" y2="784.4" stroke="#d9d9d9" stroke-width="1"/>
<line x1="194.3" y1="536" x2="194.3" y2="784.4" stroke="#e0e0e0" stroke-width="1"/>
<line x1="312.7" y1="536" x2="312.7" y2="784.4" stroke="#e0e0e0" stroke-width="1"/>
<line x1="431.5" y1="536" x2="431.5" y2="784.4" stroke="#e0e0e0" stroke-width="1"/>
<line x1="550.0" y1="536" x2="550.0" y2="784.4" stroke="#e0e0e0" stroke-width="1"/>
<line x1="75.5" y1="784.4" x2="550" y2="784.4" stroke="#dcdcdc" stroke-width="1"/>
<rect x="111.0" y="550.6" width="15.9" height="233.8" fill="#77cbef"/>
<rect x="142.0" y="566.7" width="15.9" height="217.7" fill="#d07cff"/>
<text transform="translate(123.95,545.00) rotate(-90)" font-size="14" fill="#666">0.75</text>
<text transform="translate(154.95,561.10) rotate(-90)" font-size="14" fill="#666">0.70</text>
<rect x="229.8" y="595.6" width="15.9" height="188.8" fill="#77cbef"/>
<rect x="260.5" y="597.6" width="15.9" height="186.8" fill="#d07cff"/>
<text transform="translate(242.75,590.00) rotate(-90)" font-size="14" fill="#666">0.61</text>
<text transform="translate(273.45,592.00) rotate(-90)" font-size="14" fill="#666">0.60</text>
<rect x="348.2" y="582.7" width="15.9" height="201.7" fill="#77cbef"/>
<rect x="379.2" y="607.3" width="15.9" height="177.1" fill="#d07cff"/>
<text transform="translate(361.15,577.10) rotate(-90)" font-size="14" fill="#666">0.65</text>
<text transform="translate(392.15,601.70) rotate(-90)" font-size="14" fill="#666">0.57</text>
<rect x="466.9" y="575.7" width="15.9" height="208.7" fill="#77cbef"/>
<rect x="498.0" y="603.5" width="15.9" height="180.9" fill="#d07cff"/>
<text transform="translate(479.85,570.10) rotate(-90)" font-size="14" fill="#666">0.68</text>
<text transform="translate(510.95,597.90) rotate(-90)" font-size="14" fill="#666">0.58</text>
<text x="134.2" y="803.3" font-size="14" letter-spacing="1.38" text-anchor="middle" fill="#555">Start/Stop</text>
<text x="253.0" y="803.3" font-size="14" letter-spacing="1.38" text-anchor="middle" fill="#555">Part load</text>
<text x="372.0" y="803.3" font-size="14" letter-spacing="1.38" text-anchor="middle" fill="#555">Near full load</text>
<text x="490.5" y="803.3" font-size="14" letter-spacing="1.38" text-anchor="middle" fill="#555">Full load</text>
<rect x="202.6" y="510.2" width="8.9" height="7.7" fill="#77cbef"/>
<rect x="315.3" y="510.1" width="8.4" height="7.7" fill="#d07cff"/>
<text x="216.0" y="518.5" font-size="16.8" letter-spacing="0.75" fill="#555">Year 2011</text>
<text x="327.2" y="518.5" font-size="16.8" letter-spacing="0.75" fill="#555">Year 2017</text>
<text transform="translate(70.6,659.6) rotate(-90)" font-size="14" text-anchor="middle" fill="#444">Emissions in Tons/MWh</text>
</svg>
</body></html>
